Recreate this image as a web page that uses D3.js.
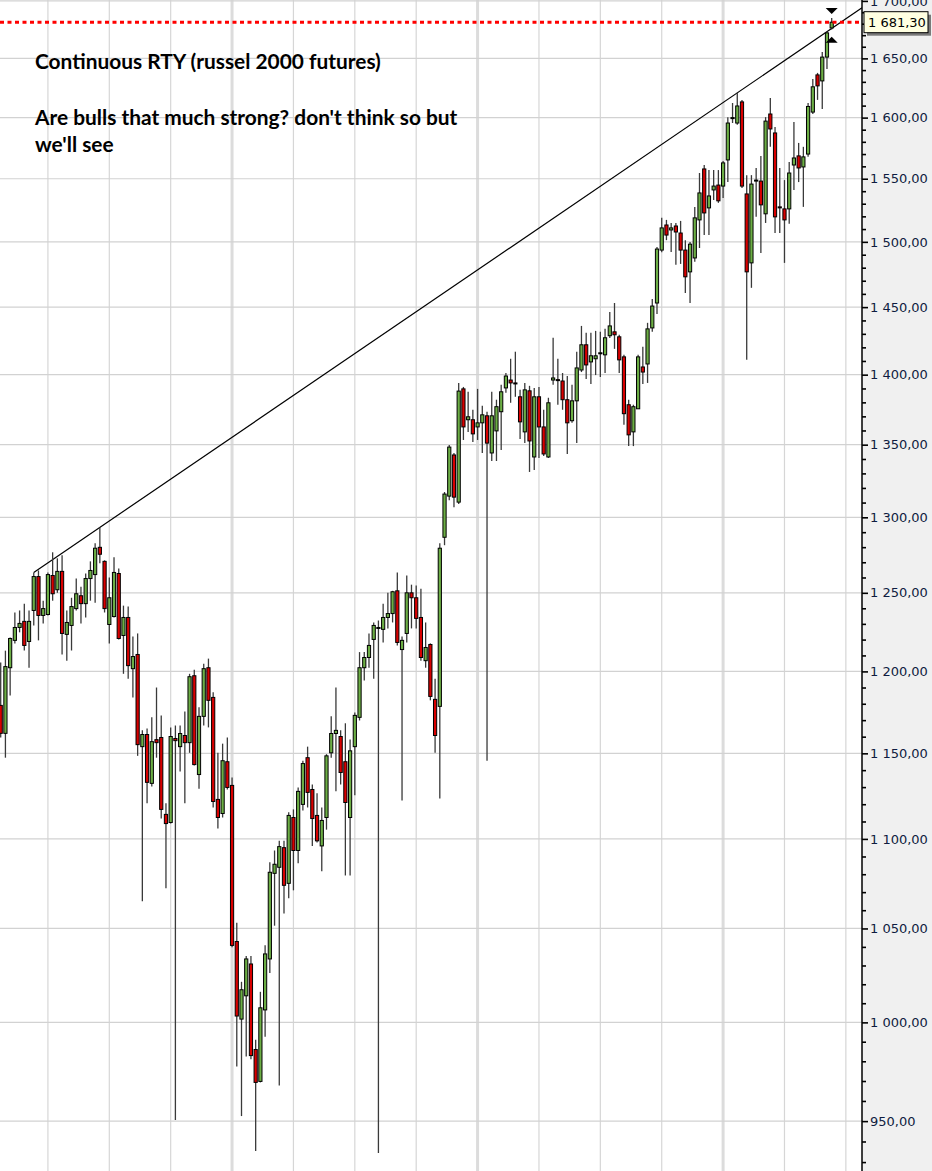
<!DOCTYPE html>
<html><head><meta charset="utf-8">
<script src="https://cdn.jsdelivr.net/npm/d3@7"></script>
<style>html,body{margin:0;padding:0;background:#fff;overflow:hidden}</style>
</head><body>
<svg id="chart" width="932" height="1171"></svg>
<script>
// Weekly candles, continuous RTY futures (index 0 = first visible week)
const opens = [1179,1162,1202.3,1219.5,1227.7,1231.6,1218.8,1238.6,1260.6,1235.4,
1236,1261.3,1252,1264,1223.3,1229,1239.8,1248.1,1243,1259.3,
1261.9,1279.9,1270.6,1229.6,1234.7,1262.6,1222.6,1234.1,1201.7,1210.6,
1154,1161.3,1132.2,1158.2,1159.5,1114.1,1109.4,1158.9,1154,1160.7,
1156.4,1197.3,1137.4,1172.3,1202.3,1183.9,1122.8,1114.6,1145,1131,
1042.9,1001.7,1013.9,1030.8,986,969.8,1006.5,1033.5,1080.5,1083.9,
1095,1074.9,1112.3,1093.4,1119.9,1147.4,1128.6,1113.5,1096,1112.3,
1150.3,1161.9,1160.1,1145,1112.3,1154,1171.7,1202.3,1208.7,1220.1,
1227.1,1226.5,1234.1,1236.6,1251.3,1213.7,1223.9,1250,1246.8,1234.1,
1206.7,1216.9,1182.7,1178.4,1286.6,1314.4,1342.8,1310.3,1389.7,1367.6,
1367.6,1362.5,1365.4,1370.4,1344.2,1359.7,1373.3,1390.4,1396.1,1394,
1384,1359,1388.3,1341.4,1384,1362.5,1341.4,1396.1,1396.4,1395.4,
1381.9,1366.9,1381.1,1403.4,1421.9,1409.3,1411.6,1415.6,1414.5,1428.6,
1431.5,1427.8,1413,1378.3,1359,1375.4,1405.6,1407.8,1434.4,1453.1,
1493.6,1513.2,1509.3,1512.4,1506.9,1493.6,1476.8,1487.5,1517.2,1557.9,
1526.7,1541,1544.9,1544.1,1565.2,1599.6,1595.5,1613.1,1537.8,1483.7,
1548.1,1548.1,1522,1603,1587.3,1527.5,1525.9,1525.9,1561.1,1568.5,
1559.5,1570,1604.6,1635.9,1630.8,1651.1,1676.3];
const highs = [1205.5,1213,1221.3,1237.3,1238.6,1243,1238.6,1263.3,1264.6,1244.9,
1263.3,1276.6,1272.6,1274.6,1238.6,1246.8,1259.3,1254,1262.6,1270.6,
1282.6,1293.2,1271.3,1260,1273.3,1265.9,1241.7,1241.1,1222,1223.9,
1163.8,1165,1171.7,1190,1172.9,1120.5,1165.6,1166.8,1166.8,1175.3,
1198.5,1201,1177.8,1204.8,1208,1187,1150.3,1155.8,1159.5,1135.7,
1053.1,1021.3,1035.1,1035.1,991,1016,1040.9,1086.7,1093.4,1099,
1099,1115.3,1117,1129.8,1145.6,1154,1131.6,1126.4,1118.1,1149.5,
1172.3,1190,1163.8,1168.1,1158.3,1174.7,1212.1,1212.1,1223.9,1230.9,
1232.2,1243,1250,1251.3,1263.3,1222,1261.3,1255.3,1254.7,1252.7,
1230.9,1217.6,1195.5,1282.6,1317.2,1349.7,1344.2,1394,1391.1,1387.6,
1374.7,1389.7,1377.6,1373.3,1387.6,1381.9,1392.6,1401.2,1411.6,1416.8,
1389,1394,1391.9,1390.4,1391.1,1374.7,1383.3,1427.1,1411.6,1401.2,
1399,1392.6,1416.8,1435.9,1430.8,1430.8,1432.2,1431.5,1433.7,1446.3,
1453.1,1429.3,1414.5,1381.9,1378.3,1414.5,1420.4,1438.2,1456.1,1495.9,
1518.8,1517.2,1514.8,1514.8,1516.4,1501.3,1499.8,1527.5,1554.6,1561.1,
1557,1557,1557,1564.4,1600.4,1612.2,1620.7,1614.8,1552.9,1552.9,
1558.7,1568.5,1600.4,1616.4,1592.2,1558.7,1548.9,1563.6,1596.3,1579.1,
1575.9,1612.2,1632.5,1637.6,1655.5,1673,1685];
const lows = [1159.5,1147.4,1185.1,1217.6,1224.6,1213.1,1202.3,1229,1219.5,1230.3,
1235.4,1244.9,1250,1210.6,1206.7,1213.1,1238.6,1230.3,1234.1,1244.9,
1243.6,1269.3,1237.3,1217.6,1234.1,1220.1,1198.5,1195.5,1183.9,1148.5,
1064.9,1120.5,1130.4,1147.4,1111.7,1072.1,1108.8,950.5,1139.2,1120.5,
1150.3,1142.7,1129,1166.8,1165.6,1118.1,1105.9,1112.3,1128.6,1039.8,
977.4,952.5,982.4,981,935.4,969.3,992.6,1026,1051.5,967.8,
1058.2,1066.6,1071,1086.2,1116.4,1118.1,1096,1098,1081.7,1105.3,
1147.4,1127.5,1131.6,1079.3,1079.3,1125.2,1169.8,1194.3,1202.3,1195.5,
934.4,1218.2,1227.1,1230.9,1216.3,1122.2,1218.2,1227.1,1227.1,1206.7,
1202.3,1182.1,1150.3,1123.4,1281.3,1311.6,1306.8,1309,1353.3,1359,
1351.9,1353.3,1344.2,1145.6,1338.6,1338.6,1346.3,1386.9,1379.7,1384,
1354,1351.1,1331,1332.4,1340.7,1342,1340.7,1392.6,1378.3,1374.7,
1343.5,1365.5,1351.1,1401.9,1396.9,1393.3,1399.7,1398.3,1401.2,1427,
1418.9,1401.2,1364,1349,1349,1375.4,1393.3,1394,1431.5,1444.8,
1492,1501.3,1492.1,1482.2,1482.9,1460.7,1453.1,1484.5,1495.2,1505.3,
1505.3,1533,1530.7,1534.6,1547.3,1595.5,1594,1542.6,1410.8,1464.6,
1519.6,1491.4,1514.8,1575.9,1506.9,1506.9,1483.7,1514.1,1541,1547.3,
1527.5,1567.7,1603,1614.8,1607.2,1641,1675];
const closes = [1162,1203,1220.7,1227.7,1230.3,1216.3,1231.6,1260.6,1235.4,1239.8,
1261.9,1249.4,1264,1223.9,1230.9,1241.1,1249.4,1243,1259.3,1264.6,
1279.3,1275.3,1239.8,1246.8,1263.3,1220.7,1234.1,1203.6,1209.3,1155.2,
1161.3,1132.8,1157,1156.4,1117,1108.8,1160.1,1157.6,1161.9,1156.4,
1196.7,1143.3,1172.3,1201.7,1182.1,1121.6,1112.3,1145.6,1129.8,1040.8,
1003.3,1017.1,1033.5,982.9,969.3,1007.6,1036.2,1081.1,1085.6,1095.6,
1073.8,1113.5,1093.4,1127.5,1143.9,1126.9,1111.7,1098.9,1110.6,1148.5,
1161.9,1163.8,1138.6,1121,1151.5,1172.9,1202.3,1208.7,1216.3,1229,
1227.7,1234.1,1236.6,1250.7,1218.2,1219.5,1250,1246.8,1233.5,1208.7,
1215,1184.5,1160.7,1279.3,1315.8,1348.3,1313.7,1388.1,1362.5,1369.7,
1357.6,1365.4,1371.1,1351.1,1370.4,1376.9,1387.6,1399,1394,1393.6,
1366.1,1389,1352.6,1384,1362.5,1343.5,1379.7,1397.6,1396,1381.9,
1365.4,1381.1,1404.9,1421.9,1407.1,1413.8,1413.8,1416,1427.1,1435.9,
1429.3,1410.8,1371.9,1356.9,1376.9,1413,1401.9,1433.7,1450.8,1494.4,
1510.9,1505.3,1510.9,1507.7,1493.6,1473,1498.2,1518.8,1538.6,1522.7,
1536.2,1544.1,1532.3,1562.8,1595.5,1600,1609.7,1544.1,1476.8,1545.7,
1548.9,1529.1,1597.1,1590.6,1519.6,1527.1,1517.2,1554.6,1566.8,1558.7,
1567.7,1609.3,1625.8,1626.6,1651.1,1672,1681.3];

const majorTicks = [950,1000,1050,1100,1150,1200,1250,1300,1350,1400,1450,1500,1550,1600,1650,1700];
const lastPrice = 1681.30;
const trendAnchors = [{i:7, v:1263.3},{i:156, v:1620.7}];
const markerHigh = 1691, markerLow = 1666;
const titleLines = ["Continuous RTY (russel 2000 futures)", "", "Are bulls that much strong? don't think so but", "we'll see"];

const W = 932, H = 1171, plotRight = 862;
const data = opens.map((o,i)=>({i, o, h:highs[i], l:lows[i], c:closes[i]}));
const x = d3.scaleLinear().domain([0,176]).range([0.7,831.7]);
const y = d3.scaleLog().domain([925.7,1700.8]).range([H,0]);
const fmt = d3.formatLocale({decimal:",", thousands:" ", grouping:[3], currency:["",""]}).format(",.2f");

const svg = d3.select("#chart");
svg.append("rect").attr("width",W).attr("height",H).attr("fill","#fff");
svg.append("defs").append("clipPath").attr("id","plotclip")
  .append("rect").attr("x",0).attr("y",0).attr("width",plotRight).attr("height",H);
const plot = svg.append("g").attr("clip-path","url(#plotclip)");

// vertical grid (quarter lines, year lines thicker)
const gridWeeks = d3.range(10, 180, 13);
plot.selectAll("line.vg").data(gridWeeks).join("line")
  .attr("x1",d=>x(d)).attr("x2",d=>x(d)).attr("y1",0).attr("y2",H)
  .attr("stroke", d=>((d-49)%52===0)?"#dcdcdc":"#d6d6d6")
  .attr("stroke-width", d=>((d-49)%52===0)?3:1.2);
// horizontal grid
plot.selectAll("line.hg").data(majorTicks).join("line")
  .attr("x1",0).attr("x2",plotRight).attr("y1",d=>y(d)).attr("y2",d=>y(d))
  .attr("stroke","#d2d2d2").attr("stroke-width",1.2);

// title text
const txt = svg.append("g");
const baseY = [69, 97, 125, 152];
const tnodes = titleLines.map((t,k)=> txt.append("text").attr("x",35).attr("y",baseY[k])
  .attr("font-family","Lato, 'Open Sans', sans-serif").attr("font-weight",700)
  .attr("font-size",18).attr("fill","#000").text(t));
const w0 = tnodes[0].node().getComputedTextLength();
const fs = 18*346/w0;
tnodes.forEach(n=>n.attr("font-size",fs));

// trend line
const p0 = trendAnchors[0], p1 = trendAnchors[1];
const xa = x(p0.i), ya = y(p0.v), xb = x(p1.i), yb = y(p1.v);
const slope = (yb-ya)/(xb-xa);
plot.append("line").attr("x1",xa).attr("y1",ya)
  .attr("x2",plotRight).attr("y2",ya+slope*(plotRight-xa))
  .attr("stroke","#000").attr("stroke-width",1.2);

// candles
const up = "#6cae45", dn = "#d80000";
plot.selectAll("line.wick").data(data).join("line")
  .attr("x1",d=>x(d.i)).attr("x2",d=>x(d.i)).attr("y1",d=>y(d.h)).attr("y2",d=>y(d.l))
  .attr("stroke","#3a3a3a").attr("stroke-width",1.3);
const bw = 3.2;
plot.selectAll("rect.body").data(data).join("rect")
  .attr("x",d=>x(d.i)-bw/2).attr("width",bw)
  .attr("y",d=>y(Math.max(d.o,d.c)))
  .attr("height",d=>Math.max(1, Math.abs(y(d.o)-y(d.c))))
  .attr("fill",d=>d.c>=d.o?up:dn).attr("stroke","#000").attr("stroke-width",1);

// last price dotted line
plot.append("line").attr("x1",0).attr("x2",plotRight).attr("y1",y(lastPrice)).attr("y2",y(lastPrice))
  .attr("stroke","#ff0000").attr("stroke-width",3).attr("stroke-dasharray","4,3.5");

// high / low markers on last bar
const lx = x(176);
plot.append("path").attr("d",`M${lx-6},${y(markerHigh)-3}L${lx+6},${y(markerHigh)-3}L${lx},${y(markerHigh)+3}Z`).attr("fill","#000");
plot.append("path").attr("d",`M${lx-6},${y(markerLow)+3}L${lx+6},${y(markerLow)+3}L${lx},${y(markerLow)-3}Z`).attr("fill","#000");

// axis area
svg.append("rect").attr("x",plotRight).attr("y",0).attr("width",W-plotRight).attr("height",H).attr("fill","#f0f0f0");
const minorTicks = d3.range(930,1701,10).filter(v=>v%50!==0);
const gMinor = svg.append("g").attr("transform",`translate(${plotRight},0)`)
  .call(d3.axisRight(y).tickValues(minorTicks).tickSize(4).tickFormat(""));
gMinor.select(".domain").remove();
gMinor.selectAll("line").attr("stroke","#000").attr("stroke-width",1.6);
const gMajor = svg.append("g").attr("transform",`translate(${plotRight},0)`)
  .call(d3.axisRight(y).tickValues(majorTicks).tickSize(6).tickPadding(2).tickFormat(fmt));
gMajor.select(".domain").remove();
gMajor.selectAll("line").attr("stroke","#000").attr("stroke-width",1.6);
gMajor.selectAll("text").attr("font-family","'DejaVu Sans', Verdana, sans-serif")
  .attr("font-size",13).attr("fill","#0f1c40");
svg.append("line").attr("x1",plotRight).attr("x2",plotRight).attr("y1",0).attr("y2",H)
  .attr("stroke","#000").attr("stroke-width",1.5);

// last price label
const ly = y(lastPrice);
const lab = svg.append("g");
lab.append("rect").attr("x",plotRight+5).attr("y",ly-7.5).attr("width",64).attr("height",21).attr("fill","#7a7a7a");
lab.append("rect").attr("x",plotRight+2).attr("y",ly-10.5).attr("width",64).attr("height",21)
  .attr("fill","#ffffe1").attr("stroke","#000").attr("stroke-width",1);
lab.append("text").attr("x",plotRight+6).attr("y",ly+4.5)
  .attr("font-family","'DejaVu Sans', Verdana, sans-serif").attr("font-size",13).attr("fill","#000")
  .text(fmt(lastPrice));
</script>
</body></html>
